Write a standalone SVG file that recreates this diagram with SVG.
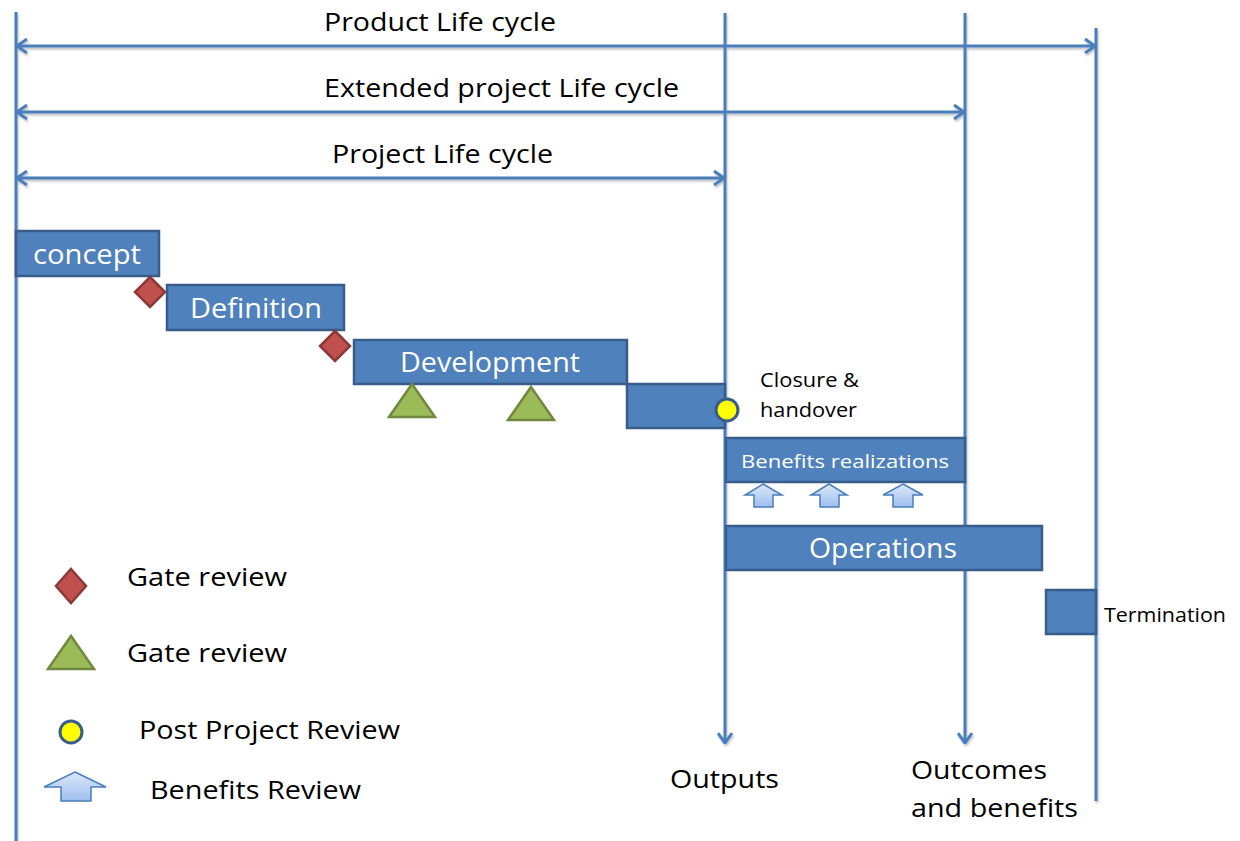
<svg xmlns="http://www.w3.org/2000/svg" width="1240" height="841" viewBox="0 0 1240 841">
<style>
.ln{stroke:#4a7ebb;stroke-width:3;fill:none}
.box{fill:#4f81bd;stroke:#385d8a;stroke-width:2.5}
.dia{fill:#c0504d;stroke:#8c3836;stroke-width:2.5}
.tri{fill:#9bbb59;stroke:#71893f;stroke-width:2.5;stroke-linejoin:miter}
.circ{fill:#ffff00;stroke:#385d8a;stroke-width:3}
.barr{fill:url(#bg);stroke:#4a7ebb;stroke-width:1.5}
.t{font-family:"Open Sans","Liberation Sans",Arial,sans-serif;fill:#000}
.w{font-family:"Open Sans","Liberation Sans",Arial,sans-serif;fill:#fff;text-anchor:middle}
</style>
<defs>
<marker id="ah" viewBox="0 0 12 16" refX="11" refY="8" markerWidth="12" markerHeight="16" markerUnits="userSpaceOnUse" orient="auto-start-reverse">
<path d="M1,1 L11,8 L1,15" stroke="#4a7ebb" stroke-width="3" fill="none"/>
</marker>
<linearGradient id="bg" x1="0" y1="0" x2="0" y2="1">
<stop offset="0" stop-color="#dce8f8"/>
<stop offset="1" stop-color="#9ebff0"/>
</linearGradient>
<filter id="sh" x="-10%" y="-10%" width="130%" height="140%">
<feDropShadow dx="1" dy="2" stdDeviation="1.2" flood-color="#000" flood-opacity="0.25"/>
</filter>
</defs>

<g id="connectors" filter="url(#sh)">
<line class="ln" x1="16" y1="12" x2="16" y2="841"/>
<line class="ln" x1="725" y1="13" x2="725" y2="743" marker-end="url(#ah)"/>
<line class="ln" x1="965" y1="13" x2="965" y2="743" marker-end="url(#ah)"/>
<line class="ln" x1="1096" y1="28" x2="1096" y2="801"/>
<line class="ln" x1="17" y1="46" x2="1095" y2="46" marker-start="url(#ah)" marker-end="url(#ah)"/>
<line class="ln" x1="17" y1="112" x2="964" y2="112" marker-start="url(#ah)" marker-end="url(#ah)"/>
<line class="ln" x1="17" y1="178" x2="724" y2="178" marker-start="url(#ah)" marker-end="url(#ah)"/>
</g>

<g id="labels-top">
<text class="t" x="324" y="31" font-size="26" textLength="232" lengthAdjust="spacingAndGlyphs">Product Life cycle</text>
<text class="t" x="324" y="97" font-size="26" textLength="355" lengthAdjust="spacingAndGlyphs">Extended project Life cycle</text>
<text class="t" x="332" y="163" font-size="26" textLength="221" lengthAdjust="spacingAndGlyphs">Project Life cycle</text>
</g>

<g id="concept"><rect class="box" x="16" y="231" width="143" height="45"/><text class="w" x="87" y="264" font-size="27" textLength="108" lengthAdjust="spacingAndGlyphs">concept</text></g>
<g id="gate1"><polygon class="dia" points="150,277 165,292 150,307 135,292"/></g>
<g id="definition"><rect class="box" x="167" y="285" width="177" height="45"/><text class="w" x="256" y="318" font-size="27" textLength="132" lengthAdjust="spacingAndGlyphs">Definition</text></g>
<g id="gate2"><polygon class="dia" points="335,331 350,346 335,361 320,346"/></g>
<g id="development"><rect class="box" x="354" y="340" width="273" height="44"/><text class="w" x="490" y="372" font-size="27" textLength="180" lengthAdjust="spacingAndGlyphs">Development</text></g>
<g id="tri1"><polygon class="tri" points="412,384 435,417 389,417"/></g>
<g id="tri2"><polygon class="tri" points="531,387 554,420 508,420"/></g>
<g id="closure"><rect class="box" x="627" y="384" width="98" height="44"/></g>
<g id="ppr"><circle class="circ" cx="727" cy="410" r="11"/></g>
<g id="closure-label">
<text class="t" x="760" y="387" font-size="20" textLength="99" lengthAdjust="spacingAndGlyphs">Closure &amp;</text>
<text class="t" x="760" y="417" font-size="20" textLength="97" lengthAdjust="spacingAndGlyphs">handover</text>
</g>
<g id="benefits"><rect class="box" x="726" y="438" width="239" height="44"/><text class="w" x="845" y="468" font-size="19" textLength="208" lengthAdjust="spacingAndGlyphs">Benefits realizations</text></g>
<g id="br1"><polygon class="barr" points="763,484 782,495 773,495 773,507 754,507 754,495 745,495"/></g>
<g id="br2"><polygon class="barr" points="829,484 847,495 839,495 839,507 820,507 820,495 811,495"/></g>
<g id="br3"><polygon class="barr" points="903,484 923,495 913,495 913,507 893,507 893,495 883,495"/></g>
<g id="operations"><rect class="box" x="726" y="526" width="316" height="44"/><text class="w" x="883" y="558" font-size="27" textLength="148" lengthAdjust="spacingAndGlyphs">Operations</text></g>
<g id="termination"><rect class="box" x="1046" y="590" width="50" height="44"/><text class="t" x="1104" y="622" font-size="20" textLength="122" lengthAdjust="spacingAndGlyphs">Termination</text></g>

<g id="outputs"><text class="t" x="670" y="788" font-size="26" textLength="109" lengthAdjust="spacingAndGlyphs">Outputs</text></g>
<g id="outcomes">
<text class="t" x="911" y="779" font-size="26" textLength="136" lengthAdjust="spacingAndGlyphs">Outcomes</text>
<text class="t" x="911" y="817" font-size="26" textLength="167" lengthAdjust="spacingAndGlyphs">and benefits</text>
</g>

<g id="legend">
<polygon class="dia" points="71,569 86,586 71,603 56,586"/>
<text class="t" x="127" y="586" font-size="26" textLength="160" lengthAdjust="spacingAndGlyphs">Gate review</text>
<polygon class="tri" points="71,636 94,669 48,669"/>
<text class="t" x="127" y="662" font-size="26" textLength="160" lengthAdjust="spacingAndGlyphs">Gate review</text>
<circle class="circ" cx="71" cy="732" r="11"/>
<text class="t" x="139" y="739" font-size="26" textLength="261" lengthAdjust="spacingAndGlyphs">Post Project Review</text>
<polygon class="barr" points="75,772 106,787 91,787 91,801 61,801 61,787 44,787"/>
<text class="t" x="150" y="799" font-size="26" textLength="211" lengthAdjust="spacingAndGlyphs">Benefits Review</text>
</g>
</svg>
